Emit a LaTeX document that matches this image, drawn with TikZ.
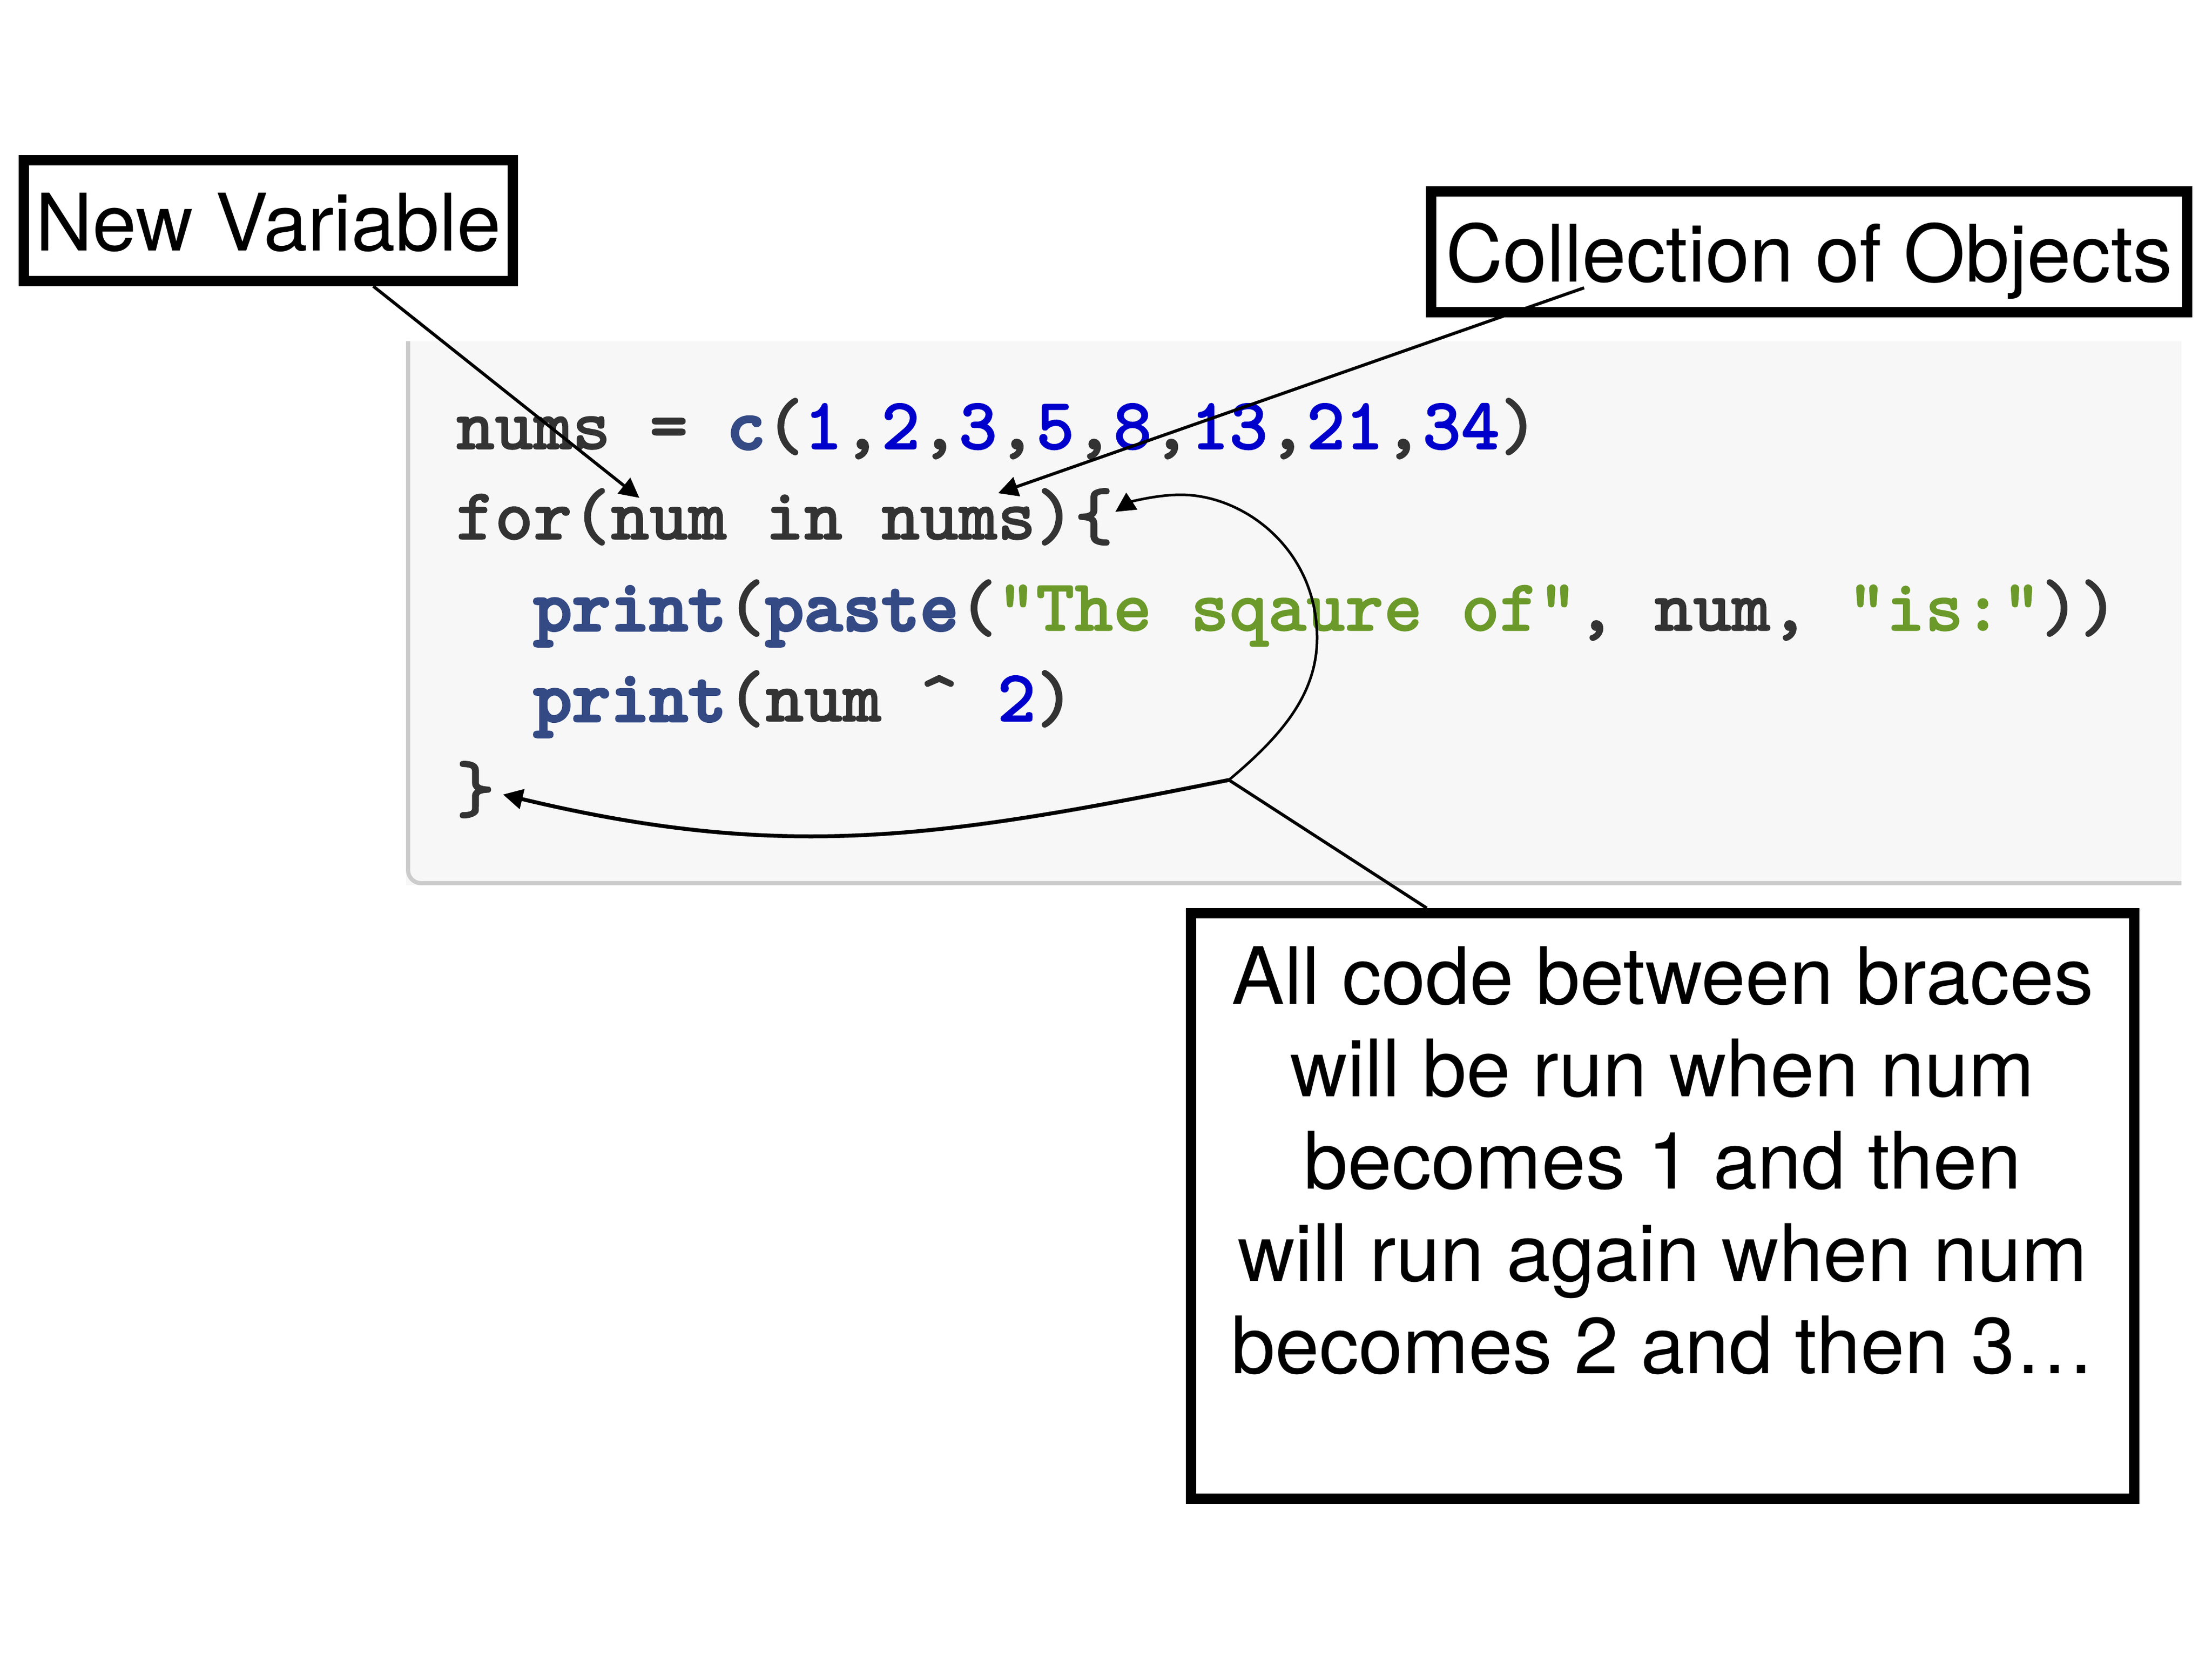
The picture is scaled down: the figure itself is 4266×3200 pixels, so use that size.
\documentclass[tikz,border=0pt]{standalone}
\usepackage{fontspec}
\setmainfont{TeX Gyre Heros}
\newfontfamily\codefont{lmmonolt10-bold.otf}[FakeBold=1]
\newfontfamily\codekwfont{lmmonolt10-bold.otf}[FakeBold=3]
\usetikzlibrary{arrows.meta}

\definecolor{codebg}{HTML}{F7F7F7}
\definecolor{codeedge}{HTML}{CCCCCC}
\definecolor{codeplain}{HTML}{333333}
\definecolor{codekw}{HTML}{344A85}
\definecolor{codenum}{HTML}{0000CC}
\definecolor{codestr}{HTML}{6B9A2A}

\newcommand{\labelfont}{\fontsize{43.5pt}{50.6pt}\selectfont}
\newcommand{\codesize}{\fontsize{40.4pt}{48pt}\selectfont}
\newcommand{\ckw}[1]{{\codekwfont\color{codekw}#1}}
\newcommand{\cnum}[1]{{\color{codenum}#1}}
\newcommand{\cstr}[1]{{\color{codestr}#1}}

\begin{document}
\begin{tikzpicture}[x=0.1mm,y=-0.1mm,
    labelbox/.style={draw,line width=2mm,inner sep=0pt,font=\labelfont,text height=41.8pt,text depth=8.7pt},
    codeline/.style={anchor=base west,inner sep=0pt,font=\codefont\codesize,text=codeplain},
    pointer/.style={line width=0.6mm,-{Triangle[length=3.8mm,width=3.8mm]}}]
  \useasboundingbox (0,0) rectangle (4266,3200);
  \fill[white] (0,0) rectangle (4266,3200);

  % code panel
  \fill[codebg] (783,658) rectangle (4207,1707);
  \draw[codeedge,line width=0.8mm,rounded corners=2.5mm] (787,658) -- (787,1703) -- (4207,1703);
  \node[codeline] (line1) at (879,866) {nums = \ckw{c}(\cnum{1},\cnum{2},\cnum{3},\cnum{5},\cnum{8},\cnum{13},\cnum{21},\cnum{34})};
  \node[codeline] (line2) at (879,1040) {for(num in nums)\{};
  \node[codeline] (line3) at (1028,1216) {\ckw{print}(\ckw{paste}(\cstr{"The sqaure of"}, num, \cstr{"is:"}))};
  \node[codeline] (line4) at (1028,1391) {\ckw{print}(num \textasciicircum{} \cnum{2})};
  \node[codeline] (line5) at (879,1566) {\}};

  % callouts
  \node[labelbox,minimum width=94.3mm,minimum height=23.3mm] (newvar) at (517.5,425.5) {New Variable};
  \node[labelbox,minimum width=145.8mm,minimum height=23.3mm] (colobj) at (3489,485.5) {Collection of Objects};
  \node[draw,line width=2mm,inner sep=0pt,font=\labelfont,align=center,
        minimum width=181.9mm,minimum height=112.9mm] (allcode) at (3206.5,2325.5)
    {All code between braces\\will be run when num\\becomes 1 and then\\will run again when num\\becomes 2 and then 3…\\~};

  % arrow ends
  \coordinate (numvar) at (1233,960);
  \coordinate (numsvec) at (1925,951);
  \coordinate (openbrace) at (2151,987);
  \coordinate (closebrace) at (970,1532);
  \coordinate (loopjoin) at (2370,1504);

  \draw[pointer] (newvar.-32) -- (numvar);
  \draw[pointer] ([xshift=30.5mm,yshift=5.7mm]colobj.south west) -- (numsvec);
  \draw[pointer,line width=0.5mm] (loopjoin) .. controls (2470,1420) and (2540,1340) .. (2540,1230)
    .. controls (2540,1060) and (2400,954) .. (2277,954) .. controls (2230,954) and (2180,968) .. (openbrace);
  \draw[pointer,line width=0.75mm] (loopjoin) .. controls (1820,1614) and (1520,1664) .. (closebrace);
  \draw[line width=0.6mm] (loopjoin) -- ([xshift=-45.5mm]allcode.north);
\end{tikzpicture}
\end{document}
